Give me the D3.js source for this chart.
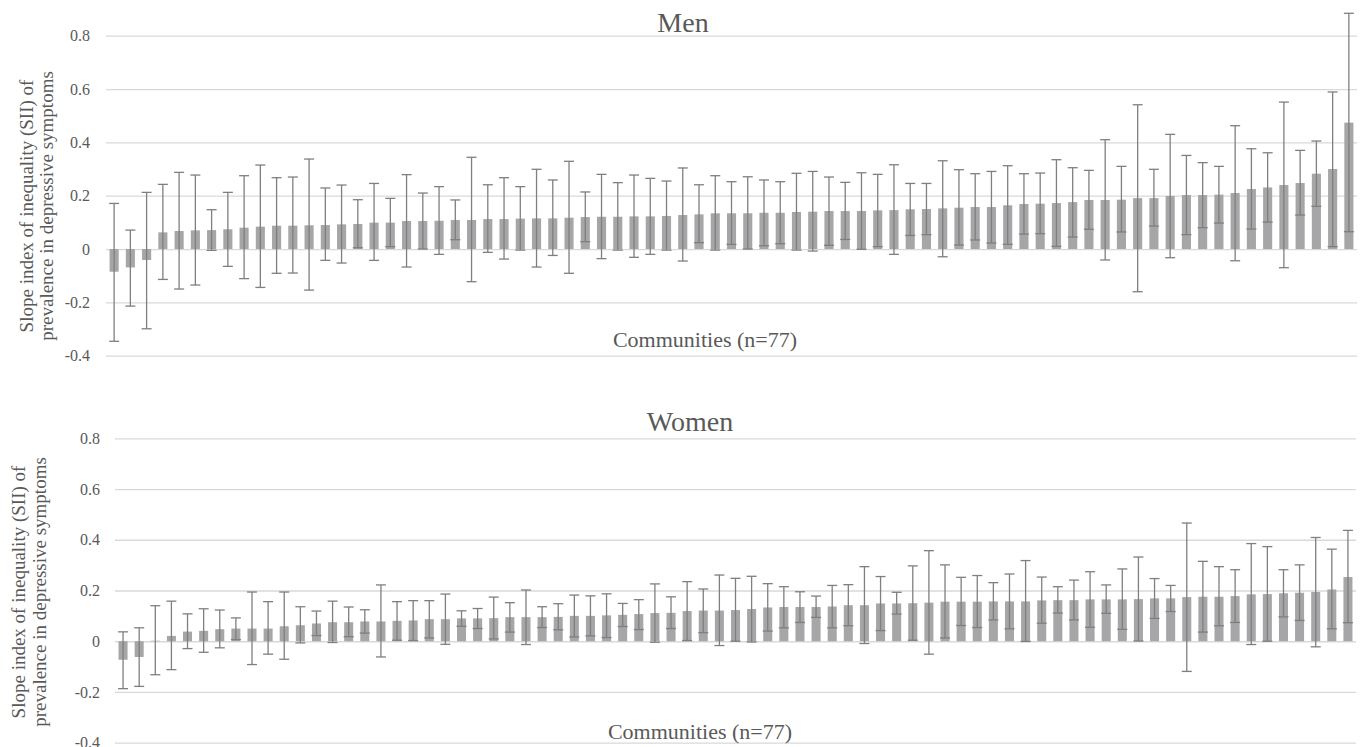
<!DOCTYPE html>
<html>
<head>
  <title>SII by community</title>
  <script src="https://d3js.org/d3.v7.min.js"></script>
  <style>
    body { margin: 0; background: #fff; }
    text { font-family: "Liberation Serif", "Times New Roman", serif; fill: #595959; }
  </style>
</head>
<body>

  <svg></svg>

  <script>

    // Communities (n=77), sorted by SII within each panel
    var communities = d3.range(1, 78);
    var yTicks = [-0.4, -0.2, 0, 0.2, 0.4, 0.6, 0.8];

    // Men: SII and 95% CI
    var menSII = [-0.085, -0.069, -0.041, 0.0625, 0.0675, 0.07, 0.071, 0.074, 0.08, 0.084,
      0.0875, 0.0875, 0.089, 0.09, 0.0925, 0.094, 0.099, 0.099, 0.105, 0.105,
      0.106, 0.109, 0.109, 0.1125, 0.1125, 0.114, 0.115, 0.115, 0.1175, 0.12,
      0.121, 0.121, 0.1225, 0.1225, 0.124, 0.1275, 0.13, 0.134, 0.134, 0.134,
      0.136, 0.136, 0.139, 0.14, 0.1425, 0.1425, 0.1425, 0.145, 0.146, 0.149,
      0.15, 0.1525, 0.155, 0.1575, 0.1575, 0.164, 0.169, 0.17, 0.1725, 0.176,
      0.184, 0.184, 0.185, 0.191, 0.191, 0.199, 0.2025, 0.2025, 0.204, 0.21,
      0.225, 0.231, 0.24, 0.2475, 0.2825, 0.30, 0.474];
    var menUpper = [0.171, 0.071, 0.2125, 0.2425, 0.2875, 0.2775, 0.1475, 0.2125, 0.275, 0.315,
      0.2675, 0.27, 0.3375, 0.229, 0.24, 0.185, 0.246, 0.19, 0.279, 0.21,
      0.234, 0.184, 0.344, 0.241, 0.2675, 0.234, 0.299, 0.259, 0.329, 0.214,
      0.28, 0.249, 0.2775, 0.265, 0.255, 0.304, 0.241, 0.275, 0.2525, 0.271,
      0.259, 0.2525, 0.284, 0.291, 0.27, 0.25, 0.286, 0.28, 0.316, 0.246,
      0.246, 0.331, 0.2975, 0.2825, 0.291, 0.3125, 0.2825, 0.285, 0.335, 0.305,
      0.295, 0.41, 0.31, 0.541, 0.299, 0.43, 0.351, 0.324, 0.31, 0.4625,
      0.376, 0.361, 0.551, 0.37, 0.405, 0.589, 0.884];
    var menLower = [-0.346, -0.214, -0.299, -0.114, -0.15, -0.135, -0.005, -0.065, -0.111, -0.144,
      -0.091, -0.09, -0.154, -0.0425, -0.0525, 0.005, -0.0425, 0.009, -0.0675, 0,
      -0.02, 0.035, -0.1225, -0.0125, -0.0375, -0.004, -0.0675, -0.024, -0.091, 0.0275,
      -0.036, -0.004, -0.031, -0.02, -0.004, -0.045, 0.024, -0.004, 0.0175, 0,
      0.0125, 0.02, -0.004, -0.0075, 0.014, 0.036, -0.001, 0.009, -0.02, 0.051,
      0.054, -0.029, 0.015, 0.034, 0.0225, 0.0175, 0.056, 0.0575, 0.01, 0.045,
      0.074, -0.041, 0.064, -0.16, 0.086, -0.0325, 0.054, 0.08, 0.0975, -0.044,
      0.075, 0.101, -0.07, 0.1275, 0.16, 0.009, 0.065];

    // Women: SII and 95% CI
    var womenSII = [-0.073, -0.062, 0.002, 0.021, 0.038, 0.041, 0.0475, 0.05, 0.05, 0.05,
      0.059, 0.063, 0.07, 0.075, 0.075, 0.078, 0.078, 0.0805, 0.082, 0.087,
      0.087, 0.09, 0.09, 0.091, 0.095, 0.095, 0.095, 0.096, 0.1, 0.1,
      0.102, 0.104, 0.107, 0.111, 0.112, 0.119, 0.121, 0.121, 0.123, 0.127,
      0.133, 0.135, 0.135, 0.135, 0.137, 0.142, 0.142, 0.149, 0.149, 0.15,
      0.152, 0.156, 0.156, 0.156, 0.157, 0.157, 0.157, 0.161, 0.162, 0.162,
      0.165, 0.165, 0.165, 0.166, 0.169, 0.169, 0.174, 0.1755, 0.1755, 0.178,
      0.185, 0.186, 0.189, 0.191, 0.194, 0.204, 0.253];
    var womenUpper = [0.037, 0.053, 0.14, 0.158, 0.108, 0.128, 0.123, 0.092, 0.194, 0.156,
      0.194, 0.136, 0.119, 0.158, 0.135, 0.124, 0.222, 0.156, 0.16, 0.16,
      0.186, 0.12, 0.129, 0.174, 0.152, 0.202, 0.136, 0.148, 0.182, 0.179,
      0.187, 0.149, 0.164, 0.226, 0.175, 0.235, 0.206, 0.261, 0.248, 0.256,
      0.227, 0.215, 0.195, 0.178, 0.22, 0.223, 0.294, 0.255, 0.193, 0.297,
      0.357, 0.301, 0.252, 0.259, 0.231, 0.265, 0.318, 0.253, 0.215, 0.241,
      0.274, 0.222, 0.285, 0.332, 0.247, 0.22, 0.466, 0.315, 0.294, 0.282,
      0.385, 0.373, 0.282, 0.301, 0.409, 0.363, 0.437];
    var womenLower = [-0.187, -0.178, -0.132, -0.112, -0.029, -0.0435, -0.026, 0.0066, -0.092, -0.051,
      -0.071, -0.0066, 0.0224, -0.005, 0.018, 0.032, -0.062, 0.004, 0.0026, 0.013,
      -0.012, 0.059, 0.05, 0.009, 0.036, -0.013, 0.054, 0.045, 0.017, 0.021,
      0.0145, 0.058, 0.046, -0.004, 0.05, 0.0026, 0.034, -0.017, 0, -0.003,
      0.04, 0.053, 0.074, 0.094, 0.053, 0.061, -0.009, 0.042, 0.107, 0.004,
      -0.051, 0.013, 0.062, 0.054, 0.084, 0.049, -0.001, 0.071, 0.111, 0.084,
      0.055, 0.11, 0.047, 0.001, 0.09, 0.117, -0.119, 0.036, 0.061, 0.074,
      -0.013, 0, 0.096, 0.082, -0.022, 0.049, 0.073];

    var svg = d3.select("svg")
        .attr("width", 1364)
        .attr("height", 747);

    var panels = [
      { title: "Men", sii: menSII, lo: menLower, hi: menUpper,
        left: 106, right: 1357, top: 35.7, bottom: 355.7, pad: 16,
        titleX: 683, titleY: 32, commX: 705, commY: 347,
        axTitleX: [33, 53], axTitleY: 206 },
      { title: "Women", sii: womenSII, lo: womenLower, hi: womenUpper,
        left: 115, right: 1356, top: 438.3, bottom: 742.7, pad: 15,
        titleX: 690, titleY: 431, commX: 700, commY: 739,
        axTitleX: [25, 46], axTitleY: 592 }
    ];

    panels.forEach(function(p) {

      var x = d3.scaleBand()
          .domain(communities)
          .range([p.left, p.right])
          .paddingInner(0.44)
          .paddingOuter(0.22);

      var y = d3.scaleLinear()
          .domain([-0.4, 0.8])
          .range([p.bottom, p.top]);

      // Gridlines and tick labels
      var yAxis = svg.append("g")
          .attr("transform", "translate(" + p.left + ",0)")
          .call(d3.axisLeft(y)
            .tickValues(yTicks)
            .tickSize(-(p.right - p.left))
            .tickPadding(p.pad)
            .tickFormat(function(d) { return String(+d.toFixed(1)); }));
      yAxis.attr("font-family", "'Liberation Serif', serif").attr("font-size", 16);
      yAxis.select(".domain").remove();
      yAxis.selectAll("line").attr("stroke", "#d9d9d9").attr("stroke-width", 1.3);
      yAxis.selectAll("text").attr("fill", "#595959");

      var rows = communities.map(function(c, i) {
        return { c: c, v: p.sii[i], lo: p.lo[i], hi: p.hi[i] };
      });

      // Bars
      svg.append("g")
        .selectAll("rect")
        .data(rows)
        .enter().append("rect")
          .attr("x", function(d) { return x(d.c); })
          .attr("width", x.bandwidth())
          .attr("y", function(d) { return y(Math.max(0, d.v)); })
          .attr("height", function(d) { return Math.abs(y(d.v) - y(0)); })
          .attr("fill", "#a6a6a8");

      // Error bars
      var err = svg.append("g")
          .attr("stroke", "#7f7f7f")
          .attr("stroke-width", 1.3)
        .selectAll("g")
        .data(rows)
        .enter().append("g")
          .attr("transform", function(d) { return "translate(" + (x(d.c) + x.bandwidth() / 2) + ",0)"; });

      err.append("line")
          .attr("y1", function(d) { return y(d.lo); })
          .attr("y2", function(d) { return y(d.hi); });
      err.append("line")
          .attr("x1", -5).attr("x2", 5)
          .attr("y1", function(d) { return y(d.hi); })
          .attr("y2", function(d) { return y(d.hi); });
      err.append("line")
          .attr("x1", -5).attr("x2", 5)
          .attr("y1", function(d) { return y(d.lo); })
          .attr("y2", function(d) { return y(d.lo); });

      // Panel title
      svg.append("text")
          .attr("x", p.titleX)
          .attr("y", p.titleY)
          .attr("text-anchor", "middle")
          .style("font-size", "28px")
          .text(p.title);

      // x axis label
      svg.append("text")
          .attr("x", p.commX)
          .attr("y", p.commY)
          .attr("text-anchor", "middle")
          .style("font-size", "22px")
          .text("Communities (n=77)");

      // y axis label, two lines
      ["Slope index of inequality (SII) of", "prevalence in depressive symptoms"].forEach(function(t, i) {
        svg.append("text")
            .attr("transform", "translate(" + p.axTitleX[i] + "," + p.axTitleY + ") rotate(-90)")
            .attr("text-anchor", "middle")
            .style("font-size", "19px")
            .text(t);
      });
    });

  </script>

</body>
</html>
